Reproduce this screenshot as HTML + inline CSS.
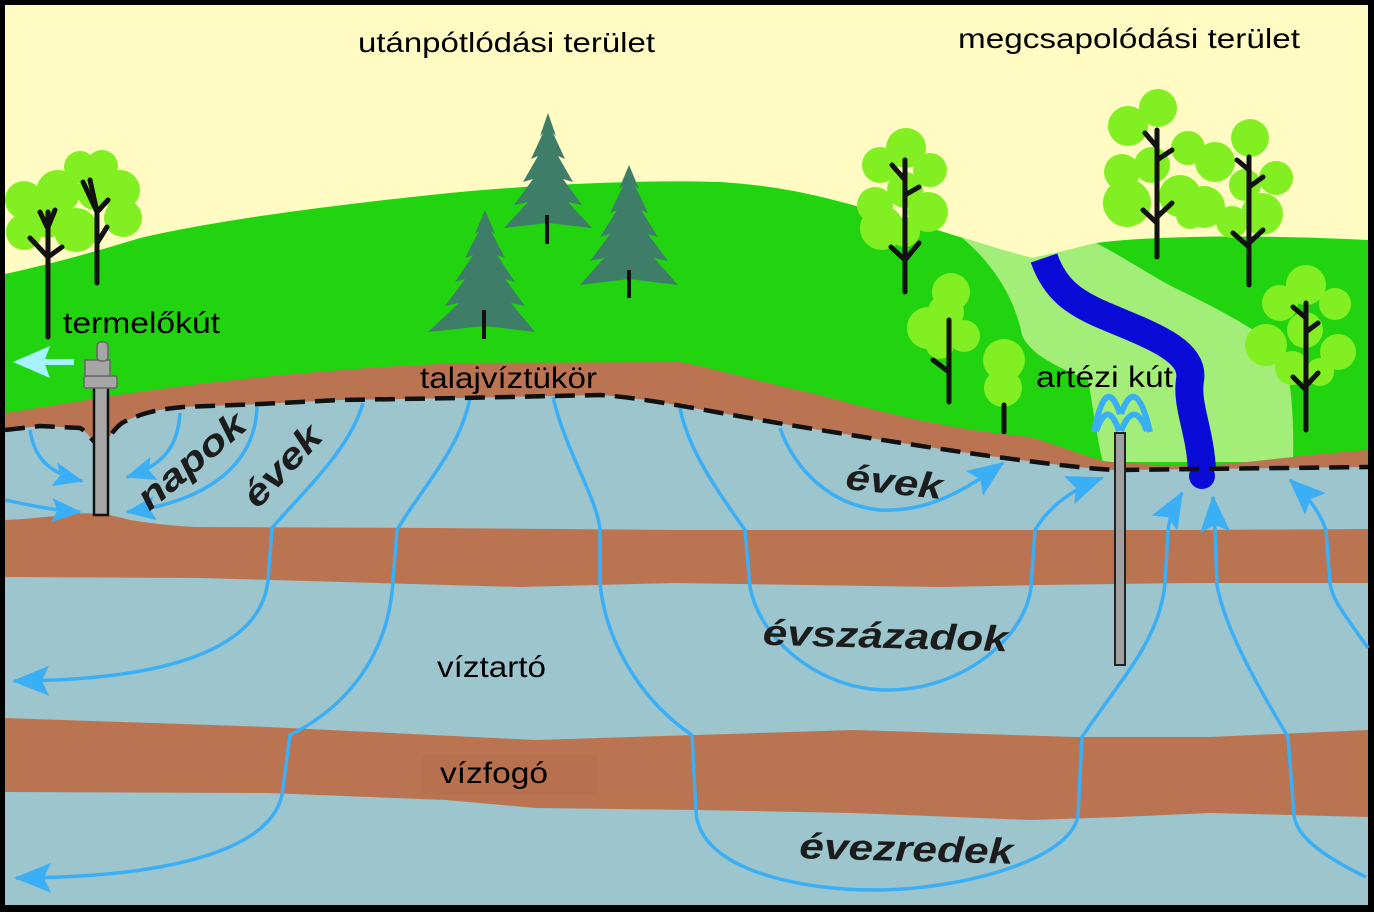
<!DOCTYPE html>
<html>
<head>
<meta charset="utf-8">
<style>
html,body{margin:0;padding:0;background:#000;}
svg{display:block;}
text{font-family:"Liberation Sans",Arial,sans-serif;}
</style>
</head>
<body>
<svg width="1374" height="912" viewBox="0 0 1374 912" xmlns="http://www.w3.org/2000/svg">
<defs>
<marker id="ah" viewBox="0 0 37 30" markerWidth="37" markerHeight="30" refX="35" refY="15" orient="auto" markerUnits="userSpaceOnUse">
<path d="M0,0 L37,15 L0,30 L7,15 Z" fill="#3BAFF5"/>
</marker>
<marker id="ahs" viewBox="0 0 37 30" markerWidth="30" markerHeight="25" refX="35" refY="15" orient="auto" markerUnits="userSpaceOnUse">
<path d="M0,0 L37,15 L0,30 L7,15 Z" fill="#3BAFF5"/>
</marker>
</defs>

<!-- frame -->
<rect x="0" y="0" width="1374" height="912" fill="#000"/>
<!-- sky -->
<rect x="5" y="5" width="1363" height="900" fill="#FFFBC3"/>

<!-- green hills -->
<path d="M5,274 C60,262 100,250 140,238 C200,224 300,208 460,192 C560,183 650,180 720,182 C780,186 820,195 880,213 C920,225 945,232 963,238 L1000,250 L1032,258 L1060,252 L1096,243 C1150,236 1250,234 1368,240 L1368,520 L5,520 Z" fill="#22D310"/>

<!-- light valley -->
<path d="M961,237 L1000,249 L1032,258 L1060,252 L1096,243 C1120,255 1150,275 1175,288 C1210,305 1250,325 1282,350 C1292,380 1294,420 1293,462 L1103,462 C1097,440 1092,400 1088,380 C1060,368 1030,355 1022,335 C1015,300 995,265 961,237 Z" fill="#A2EE78"/>

<!-- conifers -->
<g fill="#3E7D68">
<polygon points="548,113 556,136 553,133 565,159 558,156 573,182 563,179 582,205 568,202 592,228 548,223 504,228 528,202 514,205 533,179 523,182 538,156 531,159 543,133 540,136"/>
<polygon points="629,165 639,189 635,186 648,213 641,210 658,237 648,234 668,261 654,258 678,285 629,279 580,285 604,258 590,261 610,234 600,237 617,210 610,213 623,186 619,189"/>
<polygon points="485,210 495,234 491,231 505,258 497,255 515,282 505,279 525,306 511,303 535,332 485,326 428,332 459,303 445,306 465,279 455,282 473,255 465,258 479,231 475,234"/>
</g>
<g stroke="#111" stroke-width="4">
<line x1="547" y1="215" x2="547" y2="244"/>
<line x1="629" y1="270" x2="629" y2="298"/>
<line x1="484" y1="310" x2="484" y2="339"/>
</g>

<!-- deciduous tree canopies -->
<g fill="#82EF22">
<!-- left cluster -->
<circle cx="80" cy="167" r="16"/>
<circle cx="102" cy="166" r="16"/>
<circle cx="58" cy="192" r="22"/>
<circle cx="24" cy="200" r="19"/>
<circle cx="120" cy="190" r="20"/>
<circle cx="123" cy="218" r="19"/>
<circle cx="76" cy="230" r="22"/>
<circle cx="24" cy="232" r="18"/>
<circle cx="95" cy="192" r="18"/>
<circle cx="48" cy="222" r="16"/>
<!-- tree A -->
<circle cx="906" cy="148" r="20"/>
<circle cx="880" cy="165" r="18"/>
<circle cx="930" cy="170" r="17"/>
<circle cx="875" cy="205" r="18"/>
<circle cx="882" cy="228" r="22"/>
<circle cx="928" cy="212" r="20"/>
<circle cx="905" cy="190" r="18"/>
<circle cx="905" cy="232" r="15"/>
<!-- tree B -->
<circle cx="951" cy="292" r="19"/>
<circle cx="928" cy="328" r="21"/>
<circle cx="964" cy="336" r="16"/>
<circle cx="946" cy="312" r="18"/>
<circle cx="940" cy="345" r="14"/>
<!-- tree C -->
<circle cx="1004" cy="360" r="21"/>
<circle cx="1003" cy="388" r="19"/>
<!-- tree D -->
<circle cx="1158" cy="108" r="19"/>
<circle cx="1128" cy="126" r="20"/>
<circle cx="1188" cy="148" r="17"/>
<circle cx="1122" cy="172" r="18"/>
<circle cx="1127" cy="203" r="24"/>
<circle cx="1180" cy="196" r="21"/>
<circle cx="1152" cy="165" r="18"/>
<circle cx="1190" cy="215" r="14"/>
<!-- tree E -->
<circle cx="1250" cy="138" r="19"/>
<circle cx="1215" cy="162" r="20"/>
<circle cx="1276" cy="178" r="17"/>
<circle cx="1204" cy="207" r="21"/>
<circle cx="1262" cy="214" r="21"/>
<circle cx="1232" cy="222" r="16"/>
<circle cx="1245" cy="185" r="16"/>
<!-- tree F -->
<circle cx="1306" cy="285" r="20"/>
<circle cx="1280" cy="303" r="18"/>
<circle cx="1335" cy="304" r="16"/>
<circle cx="1266" cy="345" r="21"/>
<circle cx="1305" cy="330" r="18"/>
<circle cx="1338" cy="352" r="18"/>
<circle cx="1292" cy="368" r="17"/>
<circle cx="1320" cy="372" r="14"/>
</g>

<!-- trunks -->
<g stroke="#111" stroke-width="5" stroke-linecap="round" fill="none">
<!-- L1 -->
<line x1="48" y1="212" x2="48" y2="337"/>
<line x1="30" y1="238" x2="48" y2="257"/>
<line x1="62" y1="247" x2="48" y2="257"/>
<line x1="40" y1="212" x2="47" y2="227"/>
<line x1="55" y1="210" x2="48" y2="227"/>
<!-- L2 -->
<line x1="97" y1="212" x2="97" y2="283"/>
<line x1="107" y1="227" x2="97" y2="243"/>
<line x1="83" y1="182" x2="97" y2="212"/>
<line x1="90" y1="180" x2="97" y2="212"/>
<line x1="108" y1="200" x2="97" y2="212"/>
<!-- A -->
<line x1="905" y1="160" x2="905" y2="292"/>
<line x1="892" y1="165" x2="905" y2="180"/>
<line x1="919" y1="187" x2="905" y2="195"/>
<line x1="891" y1="247" x2="905" y2="260"/>
<line x1="919" y1="243" x2="905" y2="260"/>
<!-- B -->
<line x1="949" y1="320" x2="949" y2="402"/>
<line x1="933" y1="360" x2="949" y2="372"/>
<!-- C -->
<line x1="1004" y1="405" x2="1004" y2="432"/>
<!-- D -->
<line x1="1157" y1="130" x2="1157" y2="257"/>
<line x1="1145" y1="133" x2="1157" y2="147"/>
<line x1="1172" y1="150" x2="1157" y2="160"/>
<line x1="1143" y1="210" x2="1157" y2="223"/>
<line x1="1172" y1="203" x2="1157" y2="217"/>
<!-- E -->
<line x1="1249" y1="157" x2="1249" y2="285"/>
<line x1="1237" y1="160" x2="1249" y2="170"/>
<line x1="1263" y1="177" x2="1249" y2="187"/>
<line x1="1233" y1="233" x2="1249" y2="247"/>
<line x1="1263" y1="230" x2="1249" y2="243"/>
<!-- F -->
<line x1="1306" y1="303" x2="1306" y2="430"/>
<line x1="1293" y1="307" x2="1306" y2="318"/>
<line x1="1318" y1="323" x2="1306" y2="332"/>
<line x1="1293" y1="377" x2="1306" y2="390"/>
<line x1="1318" y1="373" x2="1306" y2="386"/>
</g>

<!-- brown unsaturated zone -->
<path d="M5,413 C60,405 100,397 140,392 C200,383 300,372 400,366 L460,363 L680,362 C720,370 760,382 820,395 C880,412 950,430 1030,437 C1060,446 1085,456 1103,461 C1130,464 1170,466 1200,466 C1240,464 1300,455 1368,450 L1368,520 L5,520 Z" fill="#BB7452"/>

<!-- aquifer -->
<path d="M5,430 L40,426 L80,428 C88,432 92,442 100,446 C108,442 112,430 122,423 C140,413 160,409 183,407 L260,404 L340,400 L460,398 L600,395 C650,398 720,414 820,430 C900,443 960,452 997,457 C1050,464 1090,469 1117,470 L1368,467 L1368,905 L5,905 Z" fill="#9CC5CD"/>

<!-- aquitard 1 -->
<path d="M5,520 C30,519 55,516 70,514 C90,512 110,514 130,520 C160,525 190,527 200,527 L433,528 L674,530 L941,530 L1194,530 L1368,529 L1368,583 L1194,583 L1041,585 L941,587 L674,583 L520,587 L200,578 L5,577 Z" fill="#BB7452"/>
<!-- aquitard 2 -->
<path d="M5,718 L268,727 L536,740 L696,735 L853,730 L1076,737 L1210,737 L1368,730 L1368,817 L1210,813 L1120,817 L1031,820 L853,813 L696,810 L536,808 L446,800 L268,793 L5,792 Z" fill="#BB7452"/>
<rect x="422" y="755" width="176" height="40" fill="#B8714F"/>

<!-- river -->
<path d="M1044,258 C1055,290 1075,303 1103,315 C1150,335 1195,350 1190,380 C1186,405 1200,430 1202,470" fill="none" stroke="#0B0BD8" stroke-width="28"/>
<circle cx="1202" cy="476" r="13" fill="#0B0BD8"/>

<!-- flow lines -->
<g fill="none" stroke="#3BAFF5" stroke-width="3.5">
<path d="M30,430 C34,455 45,472 82,481" marker-end="url(#ahs)"/>
<path d="M5,500 C30,505 50,510 80,512" marker-end="url(#ahs)"/>
<path d="M180,413 C178,445 165,465 127,477" marker-end="url(#ahs)"/>
<path d="M257,407 C255,460 215,500 127,512" marker-end="url(#ahs)"/>
<path d="M363,403 C350,450 300,495 272,528 L268,580 C262,640 190,680 14,681" marker-end="url(#ah)"/>
<path d="M470,398 C460,450 420,490 397,530 L393,580 C390,640 360,700 290,735 L282,795 C272,840 200,877 16,878" marker-end="url(#ah)"/>
<path d="M553,397 C565,450 598,500 600,530 L600,582 C605,640 640,700 692,735 L696,812 C700,870 800,890 875,890 C960,890 1072,860 1078,815 L1082,737 C1120,680 1160,640 1165,583 L1168,530 C1170,515 1175,505 1182,493" marker-end="url(#ah)"/>
<path d="M680,408 C688,450 720,495 745,530 L750,587 C760,640 820,690 888,690 C960,690 1025,640 1031,587 L1035,530 C1050,505 1075,488 1102,478" marker-end="url(#ah)"/>
<path d="M780,428 C795,470 830,505 880,510 C930,512 965,490 1003,463" marker-end="url(#ah)"/>
<path d="M1366,877 C1320,855 1296,835 1294,815 L1288,737 C1260,690 1225,630 1217,585 L1215,530 L1213,497" marker-end="url(#ah)"/>
<path d="M1368,648 C1345,615 1332,600 1330,583 L1326,530 C1320,512 1308,497 1290,480" marker-end="url(#ah)"/>
</g>

<!-- water table dashed line -->
<path d="M5,430 L40,426 L80,428 C88,432 92,442 100,446 C108,442 112,430 122,423 C140,413 160,409 183,407 L260,404 L340,400 L460,398 L600,395 C650,398 720,414 820,430 C900,443 960,452 997,457 C1050,464 1090,469 1117,470 L1368,467" fill="none" stroke="#111" stroke-width="4.5" stroke-dasharray="20 10"/>

<!-- production well -->
<rect x="94" y="383" width="14" height="132" fill="#A6A6A6" stroke="#111" stroke-width="2.5"/>
<rect x="84" y="376" width="33" height="12" rx="2" fill="#A6A6A6" stroke="#666" stroke-width="1.5"/>
<path d="M85,360 L110,360 L110,376 L85,376 Z" fill="#A6A6A6" stroke="#666" stroke-width="1.5"/>
<rect x="97" y="342" width="11" height="19" rx="4" fill="#A6A6A6" stroke="#666" stroke-width="1.5"/>
<!-- cyan outflow arrow -->
<rect x="40" y="359" width="34" height="6" fill="#A6F2FF"/>
<polygon points="13,362 50,346 44,362 50,378" fill="#A6F2FF"/>

<!-- artesian well -->
<rect x="1115" y="433" width="10" height="232" fill="#A0A0A0" stroke="#222" stroke-width="2"/>
<g fill="none" stroke="#3BAFF5" stroke-width="6" stroke-linecap="butt">
<path d="M1094,432 Q1106,372 1120,414"/>
<path d="M1121,414 Q1136,372 1150,432"/>
<path d="M1096,431 Q1108,398 1119,431"/>
<path d="M1121,431 Q1134,398 1147,431"/>
</g>

<!-- labels -->
<g fill="#000" font-size="28">
<text x="358" y="52" textLength="297" lengthAdjust="spacingAndGlyphs">utánpótlódási terület</text>
<text x="958" y="48" textLength="342" lengthAdjust="spacingAndGlyphs">megcsapolódási terület</text>
</g>
<g fill="#000" font-size="30">
<text x="63" y="333" textLength="157" lengthAdjust="spacingAndGlyphs">termelőkút</text>
<text x="420" y="388" textLength="177" lengthAdjust="spacingAndGlyphs">talajvíztükör</text>
<text x="1036" y="387" textLength="137" lengthAdjust="spacingAndGlyphs">artézi kút</text>
<text x="437" y="677" textLength="109" lengthAdjust="spacingAndGlyphs">víztartó</text>
<text x="440" y="783" textLength="108" lengthAdjust="spacingAndGlyphs">vízfogó</text>
</g>
<g fill="#1c1c1c" font-size="36" font-weight="bold" font-style="italic" text-anchor="middle">
<text x="0" y="0" transform="translate(199,470) rotate(-40)" textLength="130" lengthAdjust="spacingAndGlyphs">napok</text>
<text x="0" y="0" transform="translate(291,474) rotate(-47)" textLength="98" lengthAdjust="spacingAndGlyphs">évek</text>
<text x="0" y="0" transform="translate(893,494) rotate(6)" textLength="97" lengthAdjust="spacingAndGlyphs">évek</text>
<text x="0" y="0" transform="translate(885,648) rotate(1.5)" textLength="245" lengthAdjust="spacingAndGlyphs">évszázadok</text>
<text x="0" y="0" transform="translate(906,861) rotate(1.5)" textLength="214" lengthAdjust="spacingAndGlyphs">évezredek</text>
</g>
</svg>
</body>
</html>
